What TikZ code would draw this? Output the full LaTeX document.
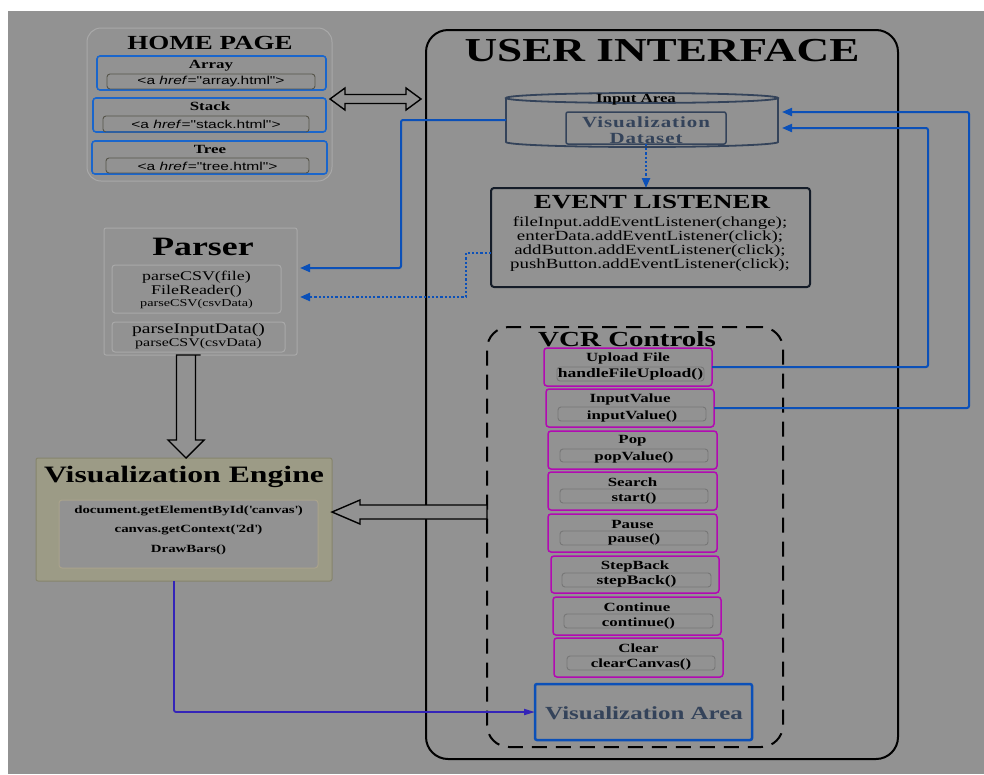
\documentclass[tikz,border=0pt]{standalone}
\usepackage{fontspec}
\setmainfont[FakeStretch=1.35]{Liberation Serif}
\newfontfamily\linkfont[FakeStretch=1.35]{Liberation Sans}
\newfontfamily\spacedserif[FakeStretch=1.35,LetterSpace=6]{Liberation Serif}
\usetikzlibrary{arrows.meta,calc}
\definecolor{bggray}{HTML}{929292}
\definecolor{homeblue}{HTML}{1A66CC}
\definecolor{linkblue}{HTML}{0B50B8}
\definecolor{indigoline}{HTML}{3424B8}
\definecolor{btnmag}{HTML}{B20AB2}
\definecolor{slate}{HTML}{34435A}
\definecolor{navyedge}{HTML}{141C28}
\definecolor{softedge}{HTML}{A9A9A9}
\definecolor{btnedge}{HTML}{767676}
\definecolor{oliveedge}{HTML}{56544A}
\definecolor{enginefill}{HTML}{9C9B86}
\definecolor{engineedge}{HTML}{86846C}
\definecolor{engineinner}{HTML}{AAA38C}
\newcommand\fsz[1]{\fontsize{#1}{#1}\selectfont}
\begin{document}
\begin{tikzpicture}[x=1pt,y=-1pt,
  frame/.style={inner sep=0pt, outer sep=0pt},
  txt/.style={inner sep=0pt, outer sep=0pt, align=center, text=black},
  softbox/.style={frame, draw=softedge, line width=1pt},
  homecard/.style={frame, draw=homeblue, line width=1.6pt, rounded corners=3pt},
  linkcard/.style={frame, draw=oliveedge, line width=0.9pt, rounded corners=3pt},
  btn/.style={frame, draw=btnmag, line width=1.5pt, rounded corners=3pt,
              minimum width=168pt, minimum height=38pt},
  btninner/.style={frame, draw=btnedge, line width=0.9pt, rounded corners=3pt,
              minimum width=148pt, minimum height=14pt},
  btnlabel/.style={txt, font=\bfseries\fsz{12.5}},
  bluewire/.style={draw=linkblue, line width=2pt, rounded corners=2pt,
              -{Triangle[length=10pt,width=8pt]}},
  dotwire/.style={draw=linkblue, line width=2.2pt, dotted,
              -{Triangle[length=10pt,width=8pt]}},
  hollow/.style={draw=black, line width=1.4pt, fill=bggray, line join=miter}
]
\useasboundingbox (0,0) rectangle (984,774);
\fill[white] (0,0) rectangle (984,774);
\fill[bggray] (8,11) rectangle (984,774);

% ---------------- home page ----------------
\node[softbox, rounded corners=14pt, minimum width=245pt, minimum height=153pt] (home) at (209.5,104.5) {};
\node[txt, font=\bfseries\fsz{20}] (homeTitle) at (210,43) {HOME PAGE};

\node[homecard, minimum width=229pt, minimum height=34pt] (arrayCard) at (211.5,73) {};
\node[txt, font=\bfseries\fsz{12.5}] (arrayName) at (211,65.5) {Array};
\node[linkcard, minimum width=208pt, minimum height=15pt] (arrayLink) at (211,81.5) {};
\node[txt, font=\linkfont\fsz{11.5}] (arrayHref) at (211,82) {<a \textit{href}="array.html">};

\node[homecard, minimum width=233pt, minimum height=34pt] (stackCard) at (209.5,115) {};
\node[txt, font=\bfseries\fsz{12.5}] (stackName) at (210,106.5) {Stack};
\node[linkcard, minimum width=206pt, minimum height=16pt] (stackLink) at (206,124) {};
\node[txt, font=\linkfont\fsz{11.5}] (stackHref) at (206,124.5) {<a \textit{href}="stack.html">};

\node[homecard, minimum width=235pt, minimum height=33pt] (treeCard) at (209.5,157.5) {};
\node[txt, font=\bfseries\fsz{12.5}] (treeName) at (210,149.5) {Tree};
\node[linkcard, minimum width=203pt, minimum height=15pt] (treeLink) at (207.5,165.5) {};
\node[txt, font=\linkfont\fsz{11.5}] (treeHref) at (207.5,166) {<a \textit{href}="tree.html">};

% ---------------- user interface ----------------
\node[frame, draw=black, line width=2pt, rounded corners=22pt, minimum width=472pt, minimum height=729pt] (ui) at (662,394.5) {};
\node[txt, font=\bfseries\fsz{33.5}] (uiTitle) at (662,51) {USER INTERFACE};

% input area drawn as a cylinder around an anchor node
\node[frame, minimum width=272pt, minimum height=54pt] (cyl) at (642,120) {};
\draw[slate, line width=1.8pt] (506,98) -- (506,142) arc[start angle=180, end angle=0, x radius=136, y radius=5] -- (778,98);
\draw[slate, line width=1.8pt] (642,98) ellipse[x radius=136, y radius=5];
\node[txt, font=\bfseries\fsz{12.5}] (inputArea) at (636,99.5) {Input Area};
\node[frame, draw=slate, line width=1.5pt, rounded corners=2pt, minimum width=160pt, minimum height=32pt] (dataset) at (646,128) {};
\node[txt, text=slate, font=\spacedserif\bfseries\fsz{15.5}, align=center] (datasetText) at (646,130) {Visualization\\[1pt]Dataset};

% event listener
\node[frame, draw=navyedge, line width=2pt, rounded corners=3pt, minimum width=319pt, minimum height=99pt] (evt) at (650.5,237.5) {};
\node[txt, font=\bfseries\fsz{20}] (evtTitle) at (652,202) {EVENT LISTENER};
\node[txt, font=\fsz{14}] (evtCode) at (650,244) {fileInput.addEventListener(change);\\enterData.addEventListener(click);\\addButton.addEventListener(click);\\pushButton.addEventListener(click);};

% VCR controls
\node[frame, draw=black, line width=2pt, dash pattern=on 15pt off 9pt, rounded corners=22pt, minimum width=296pt, minimum height=420pt] (vcr) at (635,537) {};
\node[txt, font=\bfseries\fsz{21.5}] (vcrTitle) at (627,339) {VCR Controls};

\node[btn] (upload) at (628,367) {};
\node[btnlabel] (uploadName) at (628,358) {Upload File};
\node[btninner, minimum width=147pt] (uploadBox) at (630.5,374) {};
\node[btnlabel, font=\bfseries\fsz{13}] (uploadCall) at (630.5,374.5) {handleFileUpload()};

\node[btn] (inputv) at (630,408) {};
\node[btnlabel] (inputvName) at (630,399.5) {InputValue};
\node[btninner] (inputvBox) at (632,414) {};
\node[btnlabel] (inputvCall) at (632,416) {inputValue()};

\node[btn, minimum width=169pt] (pop) at (632.5,450) {};
\node[btnlabel] (popName) at (632.5,441) {Pop};
\node[btninner, minimum height=13pt] (popBox) at (634,455.5) {};
\node[btnlabel] (popCall) at (634,457) {popValue()};

\node[btn, minimum width=169pt] (search) at (632.5,491) {};
\node[btnlabel] (searchName) at (632.5,482) {Search};
\node[btninner] (searchBox) at (634,496) {};
\node[btnlabel] (searchCall) at (634,498) {start()};

\node[btn, minimum width=169pt] (pause) at (632.5,533) {};
\node[btnlabel] (pauseName) at (632.5,524) {Pause};
\node[btninner] (pauseBox) at (634,538) {};
\node[btnlabel] (pauseCall) at (634,539.5) {pause()};

\node[btn, minimum height=37pt] (stepback) at (635,574.5) {};
\node[btnlabel] (stepbackName) at (635,566) {StepBack};
\node[btninner, minimum width=149pt] (stepbackBox) at (636.5,580) {};
\node[btnlabel, font=\bfseries\fsz{13}] (stepbackCall) at (636.5,581.5) {stepBack()};

\node[btn] (cont) at (637,616) {};
\node[btnlabel] (contName) at (637,607) {Continue};
\node[btninner, minimum width=149pt] (contBox) at (638.5,621) {};
\node[btnlabel] (contCall) at (638.5,623) {continue()};

\node[btn, minimum width=169pt, minimum height=39pt] (clear) at (638.5,657.5) {};
\node[btnlabel] (clearName) at (638.5,648) {Clear};
\node[btninner] (clearBox) at (641,663) {};
\node[btnlabel] (clearCall) at (641,664.5) {clearCanvas()};

\node[frame, draw=linkblue, line width=2.5pt, rounded corners=2pt, minimum width=217pt, minimum height=56pt] (vizArea) at (643.5,712) {};
\node[txt, text=slate, font=\bfseries\fsz{18.5}] (vizAreaText) at (644,713.5) {Visualization Area};

% ---------------- parser ----------------
\node[softbox, rounded corners=2pt, minimum width=193pt, minimum height=127pt] (parser) at (200.5,291.5) {};
\node[txt, font=\bfseries\fsz{26.5}] (parserTitle) at (203,246.5) {Parser};
\node[softbox, rounded corners=3pt, minimum width=169pt, minimum height=48pt] (csvBox) at (196.5,289) {};
\node[txt, font=\fsz{13.3}] (csvA) at (196.5,277.5) {parseCSV(file)};
\node[txt, font=\fsz{13.3}] (csvB) at (196.5,291) {FileReader()};
\node[txt, font=\fsz{10.5}] (csvC) at (196.5,303.5) {parseCSV(csvData)};
\node[softbox, rounded corners=3pt, minimum width=173pt, minimum height=30pt] (inputBox) at (198.5,337) {};
\node[txt, font=\fsz{14.5}] (inA) at (198.5,330) {parseInputData()};
\node[txt, font=\fsz{11.8}] (inB) at (198.5,344) {parseCSV(csvData)};

% ---------------- visualization engine ----------------
\node[frame, draw=engineedge, fill=enginefill, line width=1pt, rounded corners=2pt, minimum width=296pt, minimum height=123pt] (engine) at (184,519.5) {};
\node[txt, font=\bfseries\fsz{23.5}] (engineTitle) at (184,477) {Visualization Engine};
\node[frame, draw=engineinner, fill=bggray, line width=1pt, rounded corners=3pt, minimum width=259pt, minimum height=68pt] (engineBox) at (188.5,534) {};
\node[txt, font=\bfseries\fsz{11}] (engA) at (188.5,510.5) {document.getElementById(\textquotesingle canvas\textquotesingle)};
\node[txt, font=\bfseries\fsz{11}] (engB) at (188.5,530) {canvas.getContext(\textquotesingle 2d\textquotesingle)};
\node[txt, font=\bfseries\fsz{11}] (engC) at (188.5,549.5) {DrawBars()};

% ---------------- connectors ----------------
% home page <-> user interface
\coordinate (hL) at (home.east |- 0,99);
\draw[hollow] ($(hL)+(-2,0)$) -- ++(15,-11) -- ++(0,6.5) -- ++(61,0) -- ++(0,-6.5) -- ++(15,11)
  -- ++(-15,11) -- ++(0,-6.5) -- ++(-61,0) -- ++(0,6.5) -- cycle;

% parser => engine
\coordinate (dTip) at ($(engine.north)+(2,0)$);
\draw[hollow] (dTip) -- ++(-18,-18) -- ++(8.5,0) |- (parser.south) -| ($(dTip)+(9.5,-18)$) -- ++(8.5,0) -- cycle;

% vcr controls => engine
\coordinate (lTip) at ($(engine.east)+(0,-7.5)$);
\draw[hollow] (lTip) -- ++(28,-12) -- ++(0,5) -| (vcr.west |- 0,519) -- ($(lTip)+(28,7)$) -- ++(0,5) -- cycle;

% data flow wires
\draw[bluewire] (cyl.west) -| ($(parser.north east)+(104,40)$) -- ($(parser.north east)+(3,40)$);
\draw[dotwire] ([yshift=-15.5pt]evt.west) -| ($(parser.north east)+(169,69)$) -- ($(parser.north east)+(3,69)$);
\draw[dotwire] (dataset.south) -- (dataset.south |- evt.north);
\draw[bluewire] (upload.east) -- ++(216,0) |- ($(cyl.east)+(4,8)$);
\draw[bluewire] (inputv.east) -- ++(255,0) |- ($(cyl.east)+(4,-8)$);
\draw[draw=indigoline, line width=1.8pt, rounded corners=2pt, -{Triangle[length=11pt,width=6pt]}]
  ([xshift=-10pt]engine.south) |- (vizArea.west);
\end{tikzpicture}
\end{document}
